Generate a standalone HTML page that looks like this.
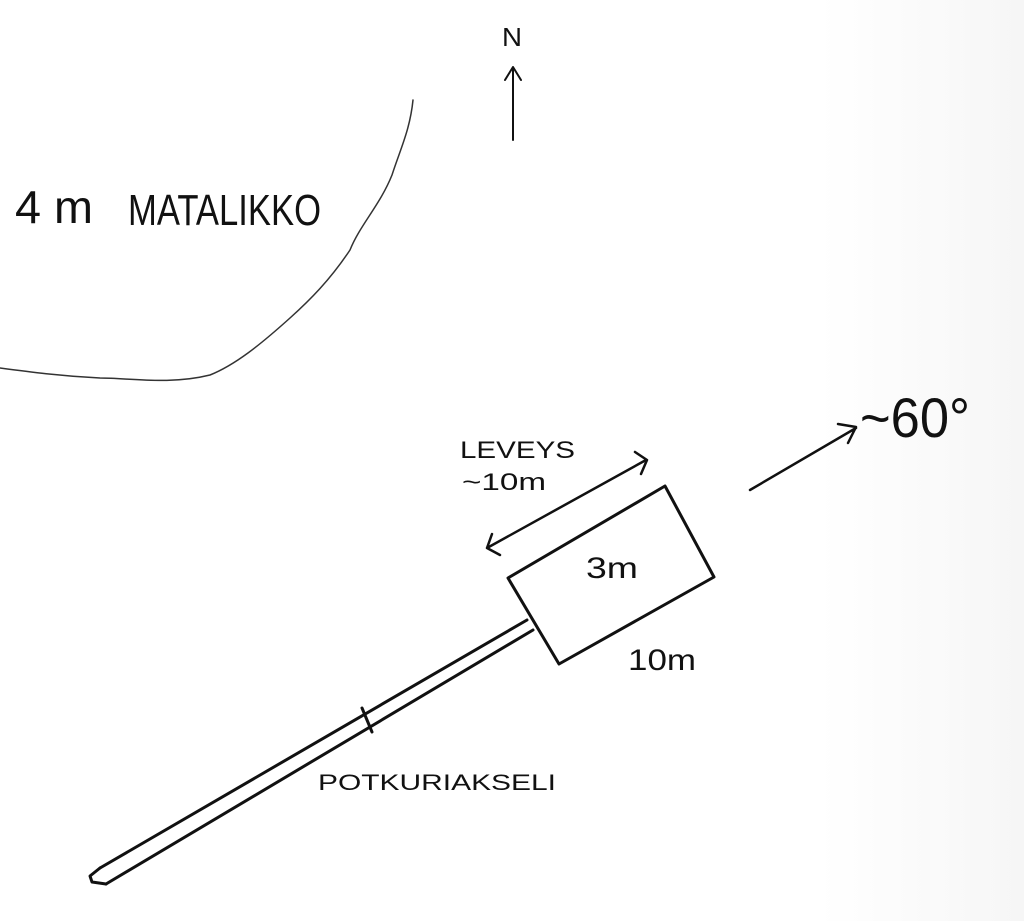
<!DOCTYPE html>
<html><head><meta charset="utf-8"><style>
html,body{margin:0;padding:0;background:#fff;}
svg{display:block;}
text{font-family:"Liberation Sans",sans-serif;fill:#111;}
</style></head><body>
<svg width="1024" height="921" viewBox="0 0 1024 921" xmlns="http://www.w3.org/2000/svg">
<defs><linearGradient id="bg" x1="0" x2="1"><stop offset="0.8" stop-color="#fff"/><stop offset="1" stop-color="#f6f6f6"/></linearGradient></defs>
<rect width="1024" height="921" fill="url(#bg)"/>
<g stroke="#111" fill="none" stroke-linecap="round" stroke-linejoin="round">
<path d="M513 140 L513 68 M505 80 L513 67 L521 80" stroke-width="2"/>
<path d="M413 100 C410 130 400 150 392 175 C380 205 360 225 350 250 C330 280 310 300 290 318 C260 345 235 365 210 375 C170 385 130 378 100 378 C60 376 30 372 0 368" stroke-width="1.5" stroke="#333"/>
<path d="M508 578 L665 486 L714 577 L559 664 Z" stroke-width="3"/>
<path d="M527 620 L100 868 M533 630 L106 884" stroke-width="3"/>
<path d="M100 868 L90 876 L92 882 L106 884" stroke-width="3"/>
<path d="M362 708 L372 732" stroke-width="3"/>
<path d="M487 548 L646 460 M635 452 L647 460 L641 474 M492 534 L487 548 L500 555" stroke-width="2.5"/>
<path d="M750 490 L856 428 M838 424 L856 427 L848 443" stroke-width="2.5"/>
</g>
<text x="502" y="46" font-size="26" textLength="20" lengthAdjust="spacingAndGlyphs">N</text>
<text x="15" y="223" font-size="46" textLength="78" lengthAdjust="spacingAndGlyphs">4 m</text>
<text x="128" y="225" font-size="44" textLength="193" lengthAdjust="spacingAndGlyphs">MATALIKKO</text>
<text x="460" y="458" font-size="24" textLength="115" lengthAdjust="spacingAndGlyphs">LEVEYS</text>
<text x="462" y="490" font-size="24" textLength="84" lengthAdjust="spacingAndGlyphs">~10m</text>
<text x="586" y="578" font-size="30" textLength="52" lengthAdjust="spacingAndGlyphs">3m</text>
<text x="628" y="670" font-size="30" textLength="68" lengthAdjust="spacingAndGlyphs">10m</text>
<text x="318" y="790" font-size="22" textLength="238" lengthAdjust="spacingAndGlyphs">POTKURIAKSELI</text>
<text x="860" y="437" font-size="56" textLength="110" lengthAdjust="spacingAndGlyphs">~60°</text>
</svg>
</body></html>
